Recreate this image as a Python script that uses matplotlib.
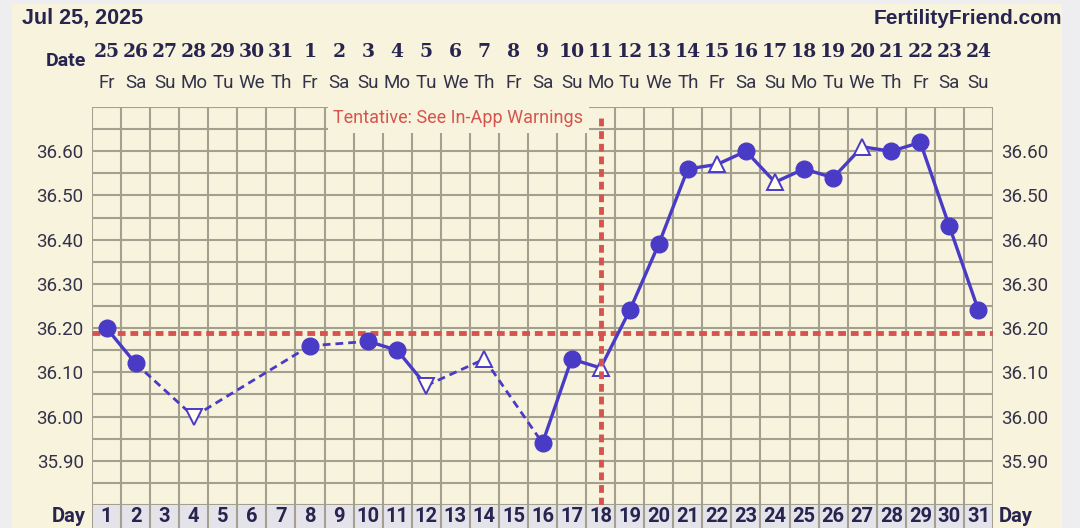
import numpy as np
import matplotlib
matplotlib.use('Agg')
import matplotlib.pyplot as plt
from matplotlib.patches import Rectangle
import matplotlib.transforms as mtransforms

# chart data
days = list(range(1, 32))
dates = [25, 26, 27, 28, 29, 30, 31] + list(range(1, 25))
weekdays = ['Fr', 'Sa', 'Su', 'Mo', 'Tu', 'We', 'Th'] * 5
weekdays = weekdays[:31]
temps = [36.20, 36.12, None, 36.00, None, None, None, 36.16, None, 36.17,
         36.15, 36.07, None, 36.13, None, 35.94, 36.13, 36.11, 36.24, 36.39,
         36.56, 36.57, 36.60, 36.53, 36.56, 36.54, 36.61, 36.60, 36.62, 36.43,
         36.24]
down_days = [4, 12]
up_days = [14, 18, 22, 24, 27]
coverline = 36.19
ovulation_day = 18
ytick_vals = [35.90, 36.00, 36.10, 36.20, 36.30, 36.40, 36.50, 36.60]

W, H = 1080, 528
CREAM = '#F8F3DC'
GRID = '#A3A08F'
BLUE = '#4A3BC6'
RED = '#D6544F'
NAVY = '#27254F'
TXT = '#33324A'


def fx(x):
    return x / W


def fy(y):
    return 1 - y / H


fig = plt.figure(figsize=(W / 100, H / 100), dpi=100, facecolor='#EEEEF0')
fig.patches.append(Rectangle((fx(12), 0), fx(1062) - fx(12), fy(4), transform=fig.transFigure,
                             facecolor=CREAM, edgecolor='none', zorder=-10))

ax = fig.add_axes([fx(92), fy(505), fx(993) - fx(92), fy(107) - fy(505)])
ax.set_facecolor(CREAM)
ax.set_xlim(0.5, 31.5)
ax.set_ylim(35.80, 36.70)
for s in ax.spines.values():
    s.set_visible(False)

# grid
for xv in np.arange(0.5, 32, 1):
    ax.axvline(xv, color=GRID, lw=1.5, zorder=1)
for yv in np.arange(35.80, 36.71, 0.05):
    ax.axhline(yv, color=GRID, lw=1.5, zorder=1)

ax.set_xticks([])
ax.set_yticks(ytick_vals)
ax.set_yticklabels(['%.2f' % v for v in ytick_vals])
ax.tick_params(axis='y', length=0, pad=6, labelsize=13.5, labelcolor=TXT,
               labelleft=True, labelright=True)
for t in ax.yaxis.get_major_ticks():
    t.label1.set_fontfamily('Roboto')
    t.label2.set_fontfamily('Roboto')

# coverline and ovulation line
ax.axhline(coverline, color=RED, lw=3.5, ls=(0, (1.6, 1.0)), zorder=2)
ax.plot([ovulation_day, ovulation_day], [35.80, 36.685], color=RED, lw=3.5,
        ls=(0, (1.6, 1.0)), zorder=6)
ax.text(ovulation_day - 0.6, 36.675, 'Tentative: See In-App Warnings', color=RED,
        fontsize=13, family='Roboto', ha='right', va='center', zorder=3,
        bbox=dict(facecolor=CREAM, edgecolor='none', pad=4))

# temperature line segments
rec = [(d, t) for d, t in zip(days, temps) if t is not None]
for (d0, t0), (d1, t1) in zip(rec[:-1], rec[1:]):
    if d1 - d0 == 1:
        ax.plot([d0, d1], [t0, t1], color=BLUE, lw=2.4, zorder=4, solid_capstyle='round')
    else:
        ax.plot([d0, d1], [t0, t1], color=BLUE, lw=2.0, ls=(0, (2.8, 1.8)), zorder=4)

for d, t in rec:
    if d in down_days:
        ax.plot(d, t, marker='v', ms=11.5, mfc='#FFFDF4', mec=BLUE, mew=1.4, zorder=5)
    elif d in up_days:
        ax.plot(d, t, marker='^', ms=11.5, mfc='#FFFDF4', mec=BLUE, mew=1.4, zorder=5)
    else:
        ax.plot(d, t, marker='o', ms=12, color=BLUE, zorder=5)

# date and weekday rows on top
tr = mtransforms.blended_transform_factory(ax.transData, fig.transFigure)
for d, dt, wd in zip(days, dates, weekdays):
    ax.text(d, fy(52), str(dt), transform=tr, fontsize=13.5, family='DejaVu Serif',
            weight='bold', color=NAVY, ha='center', va='center', clip_on=False)
    ax.text(d, fy(83), wd, transform=tr, fontsize=13.5, family='Roboto', color=TXT,
            ha='center', va='center', clip_on=False)
fig.text(fx(86), fy(61), 'Date', fontsize=14, family='Roboto', weight='bold', color=NAVY,
         ha='right', va='center')

# header
fig.text(fx(22), fy(18), 'Jul 25, 2025', fontsize=15.5, family='Liberation Sans',
         weight='bold', color=NAVY, ha='left', va='center')
fig.text(fx(1062), fy(18), 'FertilityFriend.com', fontsize=15, family='Liberation Sans',
         weight='bold', color=NAVY, ha='right', va='center')

# day row at bottom
axd = fig.add_axes([fx(92), fy(540), fx(993) - fx(92), fy(505) - fy(540)])
axd.set_xlim(0.5, 31.5)
axd.set_ylim(0, 1)
axd.axis('off')
axd.add_patch(Rectangle((0.5, 0), 31, 1, facecolor='#E5E3EA', edgecolor='none'))
for xv in np.arange(0.5, 32, 1):
    axd.axvline(xv, color=GRID, lw=1.5)
for d in days:
    axd.text(d, 0.66, str(d), fontsize=14.5, family='Roboto', weight='bold',
             color=NAVY, ha='center', va='center')
fig.text(fx(86), fy(517), 'Day', fontsize=14.5, family='Roboto', weight='bold', color=NAVY,
         ha='right', va='center')
fig.text(fx(999), fy(517), 'Day', fontsize=14.5, family='Roboto', weight='bold', color=NAVY,
         ha='left', va='center')

fig.savefig('out.png', dpi=100, facecolor=fig.get_facecolor())
